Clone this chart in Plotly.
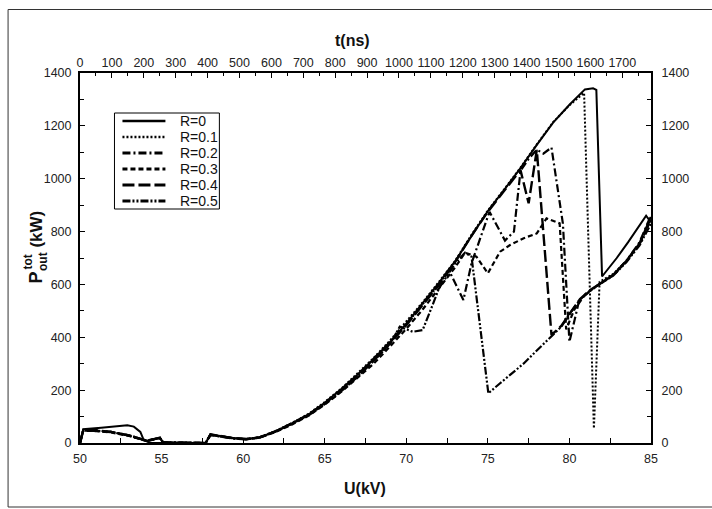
import plotly.graph_objects as go

# Output power vs. accelerating voltage for several reflection coefficients R

u_r0 = [50, 50.2, 51.3, 52.3, 52.9, 53.3, 53.7, 53.9, 54.3, 57.7, 58.0, 58.5, 59.4, 60.2, 61, 62, 63, 64,
        65, 66, 67, 68, 69, 70, 71, 72, 73, 74, 75, 76, 77, 78, 79, 80, 80.95, 81.45, 81.65, 82.0, 82.9,
        83.6, 84.2, 84.7, 85]
p_r0 = [0, 52, 58, 62, 67, 62, 42, 12, 0, 0, 33, 27, 19, 15, 21, 44, 74, 108,
        152, 203, 258, 318, 382, 452, 528, 606, 688, 785, 878, 958, 1040, 1128, 1212, 1280, 1338, 1342, 1336, 630, 700,
        760, 815, 860, 835]

u_r01 = [50, 50.2, 51, 51.9, 53, 53.7, 54.1, 54.5, 54.9, 55.1, 57.7, 58.0, 58.7, 59.4, 60.2, 61, 62, 63, 64,
         65, 66, 67, 68, 69, 70, 71, 72, 73, 74, 75, 76, 77, 78, 79, 80, 80.9, 81.5, 81.85, 82.7, 83.5, 84.3, 85]
p_r01 = [0, 50, 47, 43, 30, 17, 8, 14, 20, 2, 0, 32, 25, 18, 15, 22, 46, 76, 110,
         155, 205, 262, 322, 388, 458, 532, 610, 690, 788, 880, 960, 1042, 1130, 1214, 1278, 1325, 55, 610, 640,
         690, 755, 850]

u_r02 = [50, 50.2, 51, 51.9, 53, 53.7, 54.1, 54.5, 54.9, 55.1, 57.7, 58.0, 58.7, 59.4, 60.2, 61, 62, 63, 64,
         65, 66, 67, 68, 69, 70, 71, 72, 72.6, 73.5, 74.0, 75.1, 76.05, 76.6, 77.0, 77.5, 78.0, 78.4, 78.9, 79.6,
         80.0, 80.6, 81.3, 81.9, 82.7, 83.5, 84.3, 85]
p_r02 = [0, 48, 46, 41, 28, 16, 9, 15, 18, 3, 0, 30, 24, 17, 14, 21, 44, 74, 107,
         150, 200, 256, 318, 382, 450, 526, 600, 655, 541, 680, 875, 766, 800, 1030, 1075, 1110, 1095, 1118, 830,
         383, 540, 578, 605, 638, 690, 760, 862]

u_r03 = [50, 50.2, 51, 51.9, 53, 53.7, 54.1, 54.5, 54.9, 55.1, 57.7, 58.0, 58.7, 59.4, 60.2, 61, 62, 63, 64,
         65, 66, 67, 68, 69, 70, 71, 72, 73, 73.6, 74.3, 75.0, 75.75, 76.36, 77.2, 78.0, 78.6, 79.4, 79.8, 80.3,
         81, 81.9, 82.7, 83.5, 84.3, 85]
p_r03 = [0, 46, 45, 40, 27, 15, 7, 13, 19, 1, 0, 31, 25, 18, 15, 20, 42, 70, 103,
         145, 193, 245, 300, 365, 432, 505, 585, 665, 720, 705, 642, 724, 749, 775, 793, 850, 831, 430, 505,
         565, 603, 635, 688, 752, 845]

u_r04 = [50, 50.2, 51, 51.9, 53, 53.7, 54.1, 54.5, 54.9, 55.1, 57.7, 58.0, 58.7, 59.4, 60.2, 61, 62, 63, 64,
         65, 66, 67, 68, 69, 70, 71, 72, 73, 74, 75, 76, 76.5, 77.0, 77.5, 78.0, 78.9, 79.5, 80, 80.65, 81.3,
         81.9, 82.7, 83.5, 84.3, 85]
p_r04 = [0, 49, 48, 42, 29, 16, 8, 14, 20, 2, 0, 33, 26, 18, 15, 21, 45, 73, 106,
         150, 198, 252, 312, 376, 446, 520, 598, 685, 785, 875, 955, 995, 1033, 907, 1109, 409, 443, 488, 545, 580,
         605, 636, 690, 755, 855]

u_r05 = [50, 50.2, 51, 51.9, 53, 53.7, 54.1, 54.5, 54.9, 55.1, 57.7, 58.0, 58.7, 59.4, 60.2, 61, 62, 63, 64,
         65, 66, 67, 68, 69, 69.6, 70.4, 71.0, 71.6, 72, 73, 73.6, 74.0, 75.03, 75.75, 76.5, 77.2, 78.0, 78.5,
         79.0, 79.5, 80, 80.65, 81.3, 81.9, 82.7, 83.5, 84.3, 85]
p_r05 = [0, 47, 46, 42, 28, 15, 8, 15, 19, 2, 0, 31, 24, 17, 14, 20, 43, 72, 104,
         147, 195, 250, 310, 375, 440, 421, 427, 520, 585, 680, 720, 705, 188, 226, 265, 301, 350, 380,
         409, 440, 487, 543, 577, 603, 634, 685, 748, 830]

series_names = ["R=0", "R=0.1", "R=0.2", "R=0.3", "R=0.4", "R=0.5"]
series_u = [u_r0, u_r01, u_r02, u_r03, u_r04, u_r05]
series_p = [p_r0, p_r01, p_r02, p_r03, p_r04, p_r05]
dash_styles = ["solid", "2px,2px", "8px,3px,2px,3px", "5px,3px", "12px,4px", "8px,2px,2px,2px,2px,2px"]
line_widths = [2, 2, 2.2, 2.2, 2.4, 2.2]

p_ticks = [0, 200, 400, 600, 800, 1000, 1200, 1400]
u_ticks = [50, 55, 60, 65, 70, 75, 80, 85]
t_ticks = list(range(0, 1800, 100))

W, H = 712, 509
L, R, T, B = 79.5, 651, 73, 443  # plot-area edges in pixels


def px_x(x):
    return (x - L) / (R - L)


def px_y(y):
    return (B - y) / (B - T)


fig = go.Figure()
for name, u, p, dash, lw in zip(series_names, series_u, series_p, dash_styles, line_widths):
    fig.add_trace(go.Scatter(x=u, y=p, mode="lines", name=name, showlegend=False,
                             line=dict(color="black", width=lw, dash=dash)))

# Empty trace that attaches the time axis (top) and the mirrored power axis (right)
fig.add_trace(go.Scatter(x=t_ticks, y=[None] * len(t_ticks), xaxis="x2", yaxis="y2",
                         mode="lines", showlegend=False, hoverinfo="skip"))

font_family = "Liberation Sans, Arial, sans-serif"
tick_font = dict(family=font_family, size=12.5, color="#222")

fig.update_layout(
    width=W, height=H,
    margin=dict(l=L, r=W - R, t=T, b=H - B, pad=0),
    paper_bgcolor="white", plot_bgcolor="white",
    font=dict(family=font_family, color="#111"),
    showlegend=False,
    xaxis=dict(range=[50, 85], tickvals=u_ticks, ticks="inside", ticklen=5, tickwidth=1,
               tickcolor="black", showline=True, linecolor="black", linewidth=2,
               showgrid=False, zeroline=False, tickfont=tick_font, ticklabelstandoff=3,
               minor=dict(dtick=2.5, tick0=50, ticks="inside", ticklen=5, tickcolor="black")),
    xaxis2=dict(range=[0, 1790], overlaying="x", side="top", tickvals=t_ticks, ticks="inside",
                ticklen=5, tickcolor="black", showline=True, linecolor="black", linewidth=2,
                showgrid=False, zeroline=False, tickfont=tick_font, ticklabelstandoff=-1,
                minor=dict(dtick=50, tick0=0, ticks="inside", ticklen=3, tickcolor="black")),
    yaxis=dict(range=[0, 1400], tickvals=p_ticks, ticks="inside", ticklen=5, tickcolor="black",
               showline=True, linecolor="black", linewidth=2, showgrid=False, zeroline=False,
               tickfont=tick_font, ticklabelstandoff=4,
               minor=dict(dtick=100, ticks="inside", ticklen=4, tickcolor="black")),
    yaxis2=dict(range=[0, 1400], overlaying="y", side="right", tickvals=p_ticks, ticks="inside",
                ticklen=5, tickcolor="black", showline=True, linecolor="black", linewidth=2,
                showgrid=False, zeroline=False, tickfont=tick_font, ticklabelstandoff=6,
                minor=dict(dtick=100, ticks="inside", ticklen=4, tickcolor="black")),
)

# Legend: framed box with a line sample and label per series
leg_left, leg_right, leg_top, leg_bottom = 114, 219, 113, 209
row_y0, row_step = 121, 16
fig.add_shape(type="rect", xref="paper", yref="paper",
              x0=px_x(leg_left), x1=px_x(leg_right), y0=px_y(leg_bottom), y1=px_y(leg_top),
              line=dict(color="black", width=1), fillcolor="white", layer="above")
for i, (name, dash, lw) in enumerate(zip(series_names, dash_styles, line_widths)):
    yy = row_y0 + i * row_step
    fig.add_shape(type="line", xref="paper", yref="paper",
                  x0=px_x(122), x1=px_x(165), y0=px_y(yy), y1=px_y(yy),
                  line=dict(color="black", width=lw + 0.6, dash=dash), layer="above")
    fig.add_annotation(text=name, x=px_x(178), y=px_y(yy), xref="paper", yref="paper",
                       showarrow=False, xanchor="left", yanchor="middle",
                       font=dict(family=font_family, size=14, color="#111"))

# Axis titles
title_font = dict(family=font_family, size=16, color="#111")
fig.add_annotation(text="<b>t(ns)</b>", x=px_x(352), y=px_y(40), xref="paper", yref="paper",
                   showarrow=False, xanchor="center", yanchor="middle", font=title_font)
fig.add_annotation(text="<b>U(kV)</b>", x=px_x(365), y=px_y(488), xref="paper", yref="paper",
                   showarrow=False, xanchor="center", yanchor="middle", font=title_font)
fig.add_annotation(text="<b>P</b>", x=px_x(35), y=px_y(278), xref="paper", yref="paper",
                   showarrow=False, xanchor="center", yanchor="middle", textangle=-90,
                   font=dict(family=font_family, size=18, color="#111"))
fig.add_annotation(text="<b>tot</b>", x=px_x(27), y=px_y(262), xref="paper", yref="paper",
                   showarrow=False, xanchor="center", yanchor="middle", textangle=-90,
                   font=dict(family=font_family, size=12, color="#111"))
fig.add_annotation(text="<b>out</b>", x=px_x(42.5), y=px_y(262), xref="paper", yref="paper",
                   showarrow=False, xanchor="center", yanchor="middle", textangle=-90,
                   font=dict(family=font_family, size=12, color="#111"))
fig.add_annotation(text="<b>(kW)</b>", x=px_x(35), y=px_y(229), xref="paper", yref="paper",
                   showarrow=False, xanchor="center", yanchor="middle", textangle=-90,
                   font=dict(family=font_family, size=17, color="#111"))

# Outer frame around the whole figure
fig.add_shape(type="rect", xref="paper", yref="paper",
              x0=px_x(7.5), x1=px_x(716), y0=px_y(507), y1=px_y(9.5),
              line=dict(color="#333", width=1), fillcolor="rgba(0,0,0,0)", layer="below")

fig.write_html("out.html")
